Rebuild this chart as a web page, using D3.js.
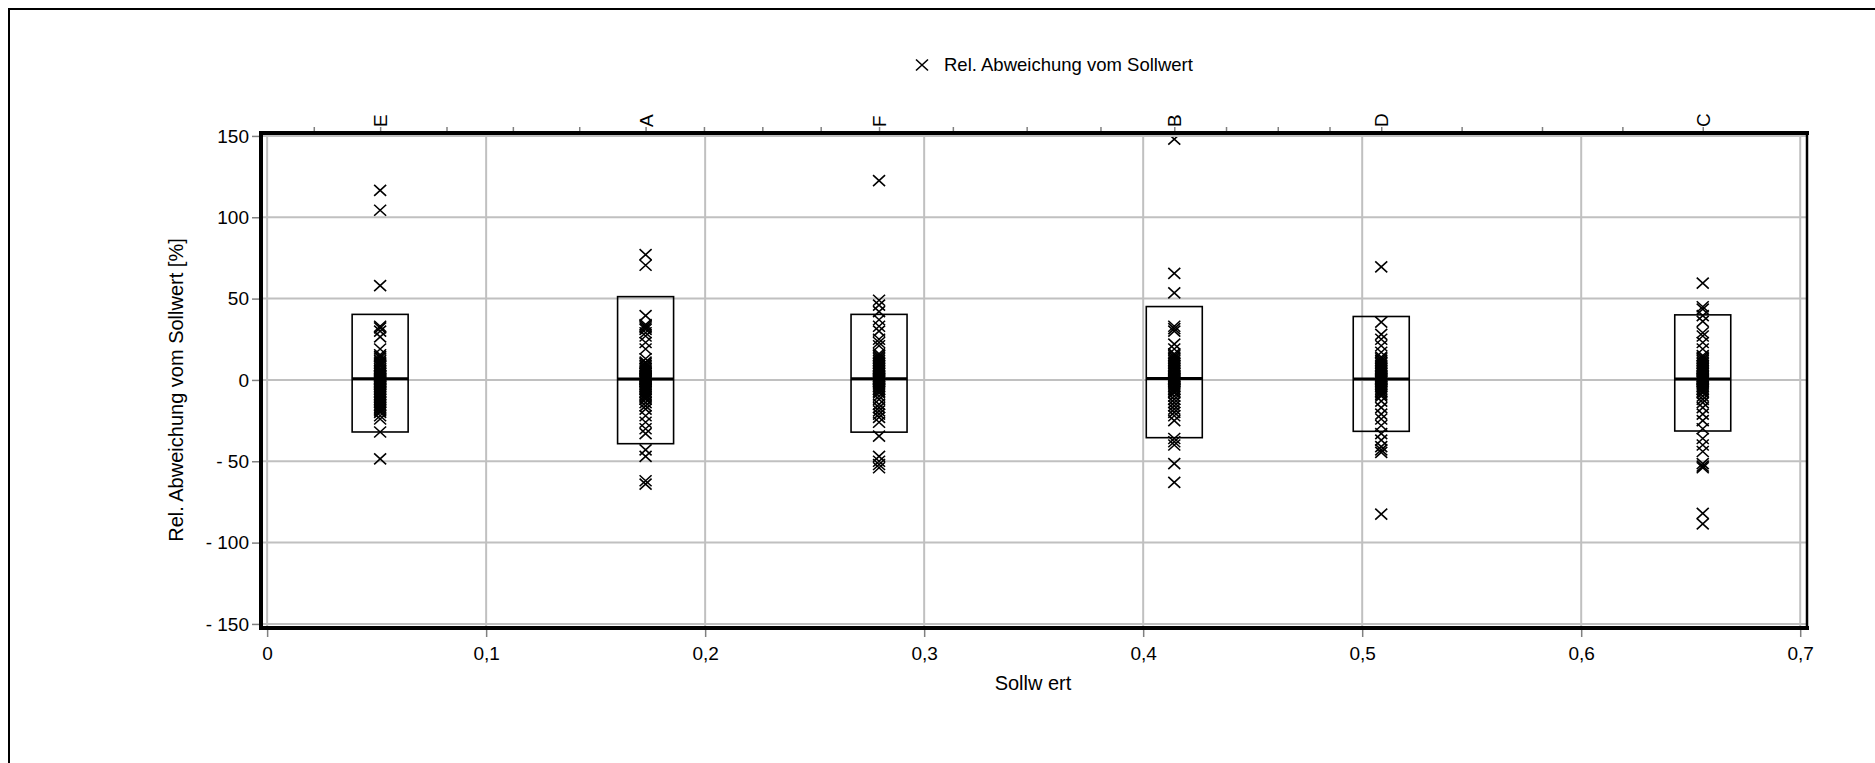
<!DOCTYPE html>
<html><head><meta charset="utf-8">
<script src="https://cdn.jsdelivr.net/npm/d3@7"></script>
<style>
body{margin:0;background:#fff;}
svg{display:block;}
text{font-family:"Liberation Sans",Arial,sans-serif;fill:#000;}
</style>
</head><body>
<svg id="chart" width="1875" height="763"></svg>
<script>
// ---- data ----
const categories = ["E", "A", "F", "B", "D", "C"];
const sollwerte = [0.0516, 0.1728, 0.2794, 0.4142, 0.5087, 0.6555];
const boxUpper = [40.3, 51.2, 40.3, 45.1, 39.0, 40.0];
const boxMedian = [0.7, 0.6, 0.8, 0.9, 0.6, 0.6];
const boxLower = [-32.0, -39.2, -32.1, -35.5, -31.6, -31.4];
const valuesE = [116.5, 104.3, 58, 33, 32, 30, 26.5, 19, 15.5, 14.5, 13.5, 12, 11, 10, 9, 8.5, 7, 6, 5, 4, 3, 2.5, 2, 1.5, 1, 0.5, 0, -0.5, -1, -1.5, -2, -2.5, -3, -4, -5, -6, -7, -8, -9, -10, -11, -12, -13, -14, -15, -16, -17, -18, -19, -20, -22, -24, -32, -48.5];
const valuesA = [77, 70.5, 39.5, 34, 33, 32, 31, 29, 27, 23, 19, 13, 11, 10, 9, 8, 7, 6, 5, 4, 3, 2, 1.5, 1, 0.5, 0, -0.5, -1, -2, -3, -4, -5, -6, -7, -8, -9, -10, -11, -12, -14, -16, -18, -22, -26, -30, -33, -43, -47, -62, -64];
const valuesF = [122.5, 49, 46, 42, 37, 33, 30, 25, 23, 21, 16, 15, 14, 13, 12, 11, 10, 9, 8, 7, 6, 5, 4, 3, 2, 1.5, 1, 0.5, 0, -0.5, -1, -2, -3, -4, -5, -6, -7, -8, -10, -12, -15, -17, -19, -21, -23, -26, -34.5, -47, -50, -52, -54];
const valuesB = [148, 65.5, 53.5, 33, 31.5, 30, 22, 19, 16, 15, 14, 13, 12, 11, 10, 9, 8, 7, 6, 5, 4, 3, 2, 1.5, 1, 0.5, 0, -0.5, -1, -2, -3, -4, -5, -6, -7, -8, -10, -12, -14, -16, -18, -20, -22, -25, -36, -38, -40, -51.5, -63];
const valuesD = [69.5, 35.5, 28, 25, 21, 17, 14, 13, 12, 11, 10, 9, 8, 7, 6, 5, 4, 3, 2, 1.5, 1, 0.5, 0, -0.5, -1, -2, -3, -4, -5, -6, -7, -8, -9, -10, -13, -17, -21, -24, -28, -33, -37, -41, -43, -44.5, -82.5];
const valuesC = [59.5, 45, 43.5, 39.5, 36, 29, 27, 23, 19, 15, 14, 13, 12, 11, 10, 9, 8, 7, 6, 5, 4, 3, 2, 1.5, 1, 0.5, 0, -0.5, -1, -2, -3, -4, -5, -6, -7, -8, -10, -12, -14, -17, -21, -25, -30, -36, -40, -44, -51.5, -53, -54, -82, -88.5];
const seriesValues = [valuesE, valuesA, valuesF, valuesB, valuesD, valuesC];
const xTicks = [0, 0.1, 0.2, 0.3, 0.4, 0.5, 0.6, 0.7];
const yTicks = [150, 100, 50, 0, -50, -100, -150];
const xDomain = [-0.0028, 0.7031];
const yDomain = [-152.5, 151.8];
const legendLabel = "Rel. Abweichung vom Sollwert";
const xTitle = "Sollw ert";
const yTitle = "Rel. Abweichung vom Sollwert [%]";

// ---- layout ----
const L = 261, R = 1807, T = 133, B = 628;
const svg = d3.select("#chart");
const x = d3.scaleLinear().domain(xDomain).range([L, R]);
const y = d3.scaleLinear().domain(yDomain).range([B, T]);

// page border
svg.append("rect").attr("x", 9).attr("y", 9).attr("width", 1900).attr("height", 800)
  .attr("fill", "none").attr("stroke", "#000").attr("stroke-width", 2);

// gridlines
const grid = svg.append("g");
grid.selectAll("line.v").data(xTicks).join("line")
  .attr("x1", d => x(d)).attr("x2", d => x(d)).attr("y1", T).attr("y2", B)
  .attr("stroke", "#c0c0c0").attr("stroke-width", 2);
grid.selectAll("line.h").data(yTicks).join("line")
  .attr("y1", d => y(d)).attr("y2", d => y(d)).attr("x1", L).attr("x2", R)
  .attr("stroke", "#c0c0c0").attr("stroke-width", 2);

// axes
const fmtY = v => v < 0 ? "- " + Math.abs(v) : String(v);
const fmtX = v => v === 0 ? "0" : d3.format(".1f")(v).replace(".", ",");

const yAxis = svg.append("g").attr("transform", `translate(${L},0)`)
  .call(d3.axisLeft(y).tickValues(yTicks).tickSize(9).tickPadding(3).tickFormat(fmtY));
const xAxis = svg.append("g").attr("transform", `translate(0,${B})`)
  .call(d3.axisBottom(x).tickValues(xTicks).tickSize(9).tickPadding(10).tickFormat(fmtX));

// top category axis ticks: categories and quarter points between neighbours
const topTicks = [];
sollwerte.forEach((v, i) => {
  topTicks.push(v);
  if (i < sollwerte.length - 1) {
    const n = sollwerte[i + 1];
    for (let k = 1; k < 4; k++) topTicks.push(v + (n - v) * k / 4);
  }
});
topTicks.push(sollwerte[0] - (sollwerte[1] - sollwerte[0]) / 4);
const topAxis = svg.append("g").attr("transform", `translate(0,${T})`)
  .call(d3.axisTop(x).tickValues(topTicks).tickSize(6).tickFormat(""));

[yAxis, xAxis, topAxis].forEach(g => {
  g.select(".domain").remove();
  g.selectAll(".tick line").attr("stroke", "#808080").attr("stroke-width", 1.5);
  g.selectAll(".tick text").style("font-size", "19px").attr("fill", "#000");
});

// category labels (rotated)
svg.append("g").selectAll("text").data(categories).join("text")
  .attr("transform", (d, i) => `translate(${x(sollwerte[i]) + 7},127) rotate(-90)`)
  .attr("text-anchor", "start").style("font-size", "19px").text(d => d);

// clip
svg.append("clipPath").attr("id", "plotclip").append("rect")
  .attr("x", L).attr("y", T + 4).attr("width", R - L).attr("height", B - T - 4);

// boxes
const boxW = 28;
const boxes = svg.append("g");
boxes.selectAll("rect").data(categories).join("rect")
  .attr("x", (d, i) => x(sollwerte[i]) - boxW).attr("width", 2 * boxW)
  .attr("y", (d, i) => y(boxUpper[i])).attr("height", (d, i) => y(boxLower[i]) - y(boxUpper[i]))
  .attr("fill", "none").attr("stroke", "#000").attr("stroke-width", 1.6);
boxes.selectAll("line").data(categories).join("line")
  .attr("x1", (d, i) => x(sollwerte[i]) - boxW).attr("x2", (d, i) => x(sollwerte[i]) + boxW)
  .attr("y1", (d, i) => y(boxMedian[i])).attr("y2", (d, i) => y(boxMedian[i]))
  .attr("stroke", "#000").attr("stroke-width", 3);

// points
const cross = "M-6,-5.5L6,5.5M-6,5.5L6,-5.5";
const pts = [];
seriesValues.forEach((arr, i) => arr.forEach(v => pts.push({ sx: sollwerte[i], v })));
svg.append("g").attr("clip-path", "url(#plotclip)").selectAll("path").data(pts).join("path")
  .attr("transform", d => `translate(${x(d.sx)},${y(d.v)})`)
  .attr("d", cross).attr("fill", "none").attr("stroke", "#000").attr("stroke-width", 1.6);

// frame
const frame = svg.append("g").attr("stroke", "#000");
frame.append("line").attr("x1", L).attr("x2", L).attr("y1", T - 2).attr("y2", B + 2).attr("stroke-width", 4);
frame.append("line").attr("x1", L - 2).attr("x2", R + 2).attr("y1", T).attr("y2", T).attr("stroke-width", 4);
frame.append("line").attr("x1", L - 2).attr("x2", R + 2).attr("y1", B).attr("y2", B).attr("stroke-width", 4);
frame.append("line").attr("x1", R).attr("x2", R).attr("y1", T).attr("y2", B).attr("stroke-width", 2.5);

// titles
svg.append("text").attr("x", 1033).attr("y", 690).attr("text-anchor", "middle")
  .style("font-size", "20px").text(xTitle);
svg.append("text").attr("transform", "translate(183,390) rotate(-90)").attr("text-anchor", "middle")
  .style("font-size", "20px").text(yTitle);

// legend
const lg = svg.append("g").attr("transform", "translate(922,65)");
lg.append("path").attr("d", cross).attr("fill", "none").attr("stroke", "#000").attr("stroke-width", 1.6);
lg.append("text").attr("x", 22).attr("dy", "0.35em").style("font-size", "18.5px").text(legendLabel);
</script>
</body></html>
